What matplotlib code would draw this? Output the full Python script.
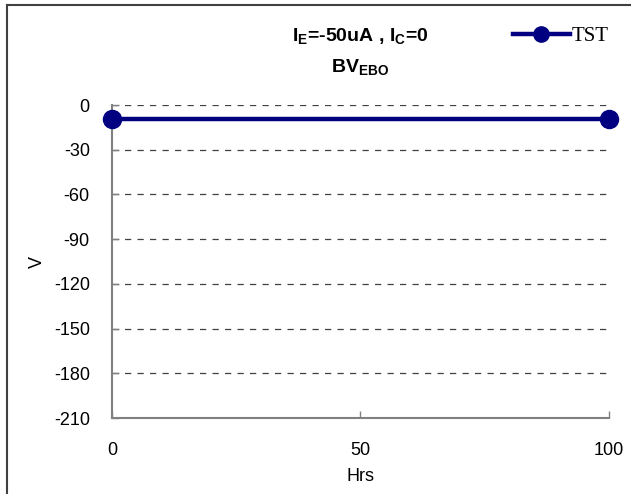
import matplotlib.pyplot as plt
from matplotlib.lines import Line2D

plt.rcParams['font.family'] = ['Liberation Sans', 'DejaVu Sans']
plt.rcParams['axes.unicode_minus'] = False

# TST readings
hrs = [0, 100]
volts = [-9.5, -9.5]
yticks = [0, -30, -60, -90, -120, -150, -180, -210]
xticks = [0, 50, 100]

fig = plt.figure(figsize=(6.31, 4.94), dpi=100)
ax = fig.add_axes([0.1775, 0.1538, 0.7876, 0.6336])

ax.plot(hrs, volts, color='#000080', lw=3.2, marker='o', ms=13,
        label='TST', clip_on=False, zorder=5)

ax.set_xlim(0, 100)
ax.set_ylim(-210, 0)
ax.set_xticks(xticks)
ax.set_yticks(yticks)
ax.tick_params(direction='in', length=5, width=1, color='#808080',
               labelsize=13, pad=16)
ax.tick_params(axis='x', pad=17)

for g in yticks[:-1]:
    ax.axhline(g, color='#404040', lw=0.9, ls=(0, (5, 5)), zorder=1)

for s in ['top', 'right']:
    ax.spines[s].set_visible(False)
for s in ['left', 'bottom']:
    ax.spines[s].set_color('#808080')
    ax.spines[s].set_linewidth(1.5)

ax.set_xlabel('Hrs', fontsize=13, labelpad=7)
ax.set_ylabel('V', fontsize=13, labelpad=6)

fig.text(0.5705, 0.925, r'I$_\mathregular{E}$=-50uA , I$_\mathregular{C}$=0',
         ha='center', va='center', fontsize=14, fontweight='bold')
fig.text(0.5705, 0.862, r'BV$_\mathregular{EBO}$',
         ha='center', va='center', fontsize=14, fontweight='bold')

handle = Line2D([], [], color='#000080', lw=3.2, marker='o', ms=11)
fig.legend([handle], ['TST'], loc='center', bbox_to_anchor=(0.889, 0.927),
           frameon=False, handlelength=2.7, handletextpad=0.1,
           borderpad=0, prop={'family': 'Liberation Serif', 'size': 15})

# outer frame
fig.add_artist(Line2D([0.011, 0.011], [0, 0.99], color='#404040', lw=1.5,
                      transform=fig.transFigure))
fig.add_artist(Line2D([0.011, 1], [0.99, 0.99], color='#404040', lw=1.5,
                      transform=fig.transFigure))

fig.savefig('out.png', dpi=100)
